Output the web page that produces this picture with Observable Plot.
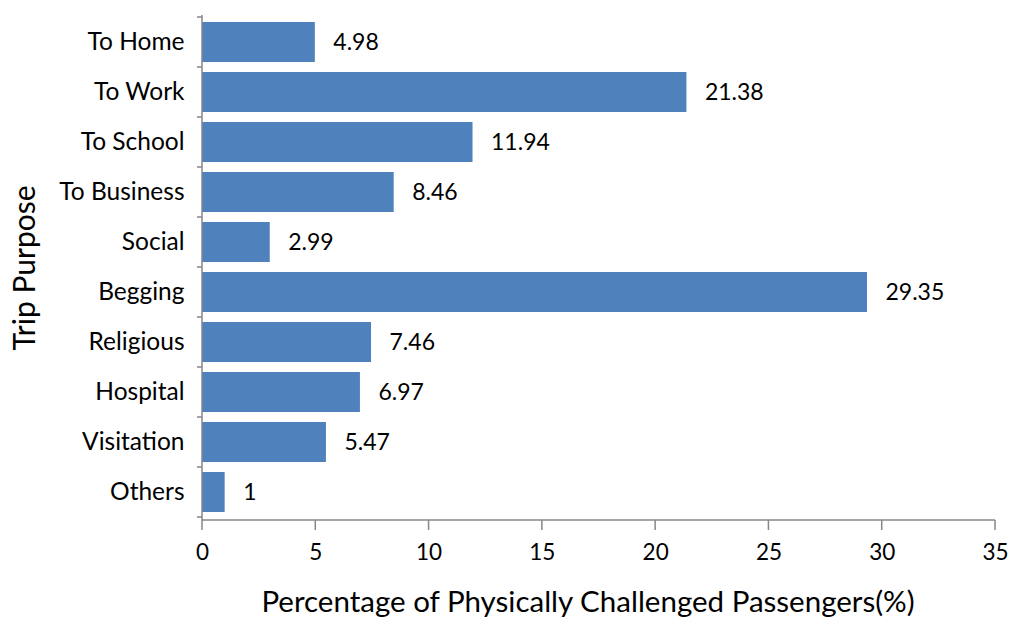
<!DOCTYPE html>
<html><head><meta charset="utf-8">
<script src="https://cdn.jsdelivr.net/npm/d3@7"></script>
<script src="https://cdn.jsdelivr.net/npm/@observablehq/plot@0.6"></script>
<style>body{margin:0;background:#fff}</style>
</head><body><div id="chart"></div>
<script>
const categories = ["To Home","To Work","To School","To Business","Social","Begging","Religious","Hospital","Visitation","Others"];
const values = [4.98, 21.38, 11.94, 8.46, 2.99, 29.35, 7.46, 6.97, 5.47, 1];
const xTicks = [0, 5, 10, 15, 20, 25, 30, 35];
const xTitle = "Percentage of Physically Challenged Passengers(%)";
const yTitle = "Trip Purpose";

const data = categories.map((c, i) => ({purpose: c, value: values[i]}));
const FONT = "Lato, 'Open Sans', sans-serif";
const AXIS = "#878787";
const BAR = "#4F81BD";

function axesLines(index, scales, values, dims) {
  const y = scales.y, x = scales.x;
  const step = y.step(), bw = y.bandwidth();
  const x0 = x(0);
  const top = dims.marginTop, bottom = dims.height - dims.marginBottom;
  const g = d3.create("svg:g").attr("stroke", AXIS).attr("stroke-width", 1.5).attr("fill", "none");
  const bounds = categories.map(c => y(c) + bw / 2 - step / 2);
  bounds.push(y(categories[categories.length - 1]) + bw / 2 + step / 2);
  g.selectAll("line.yt").data(bounds).join("line").attr("class", "yt")
    .attr("x1", x0 - 5).attr("x2", x0).attr("y1", d => d).attr("y2", d => d);
  g.selectAll("line.xt").data(xTicks).join("line").attr("class", "xt")
    .attr("x1", d => x(d)).attr("x2", d => x(d)).attr("y1", bottom).attr("y2", bottom + 10);
  g.append("line").attr("x1", x0).attr("x2", x0).attr("y1", top).attr("y2", bottom);
  g.append("line").attr("x1", x0).attr("x2", x(xTicks[xTicks.length - 1])).attr("y1", bottom).attr("y2", bottom);
  return g.node();
}

const chart = Plot.plot({
  width: 1011,
  height: 617,
  marginLeft: 202,
  marginRight: 16,
  marginTop: 15,
  marginBottom: 97,
  style: {fontFamily: FONT, background: "#fff", color: "#000", overflow: "visible"},
  x: {domain: [0, 35]},
  y: {domain: categories, paddingInner: 0.2, paddingOuter: 0.1},
  marks: [
    Plot.barX(data, {x: "value", y: "purpose", fill: BAR}),
    Plot.text(data, {x: "value", y: "purpose", text: d => String(d.value), textAnchor: "start", dx: 18, fontSize: 23, fill: "#000"}),
    axesLines,
    Plot.axisY({tickSize: 0, tickPadding: 18, fontSize: 24.5, label: null, fill: "#000"}),
    Plot.axisX({ticks: xTicks, tickSize: 0, tickPadding: 24, fontSize: 22.5, label: null, fill: "#000"}),
    Plot.text([xTitle], {frameAnchor: "bottom", dy: 91, dx: -11, fontSize: 29.5, fill: "#000"}),
    Plot.text([yTitle], {frameAnchor: "left", textAnchor: "middle", rotate: -90, dx: -177, fontSize: 30, fill: "#000"})
  ]
});
document.getElementById("chart").append(chart);
</script>
</body></html>
